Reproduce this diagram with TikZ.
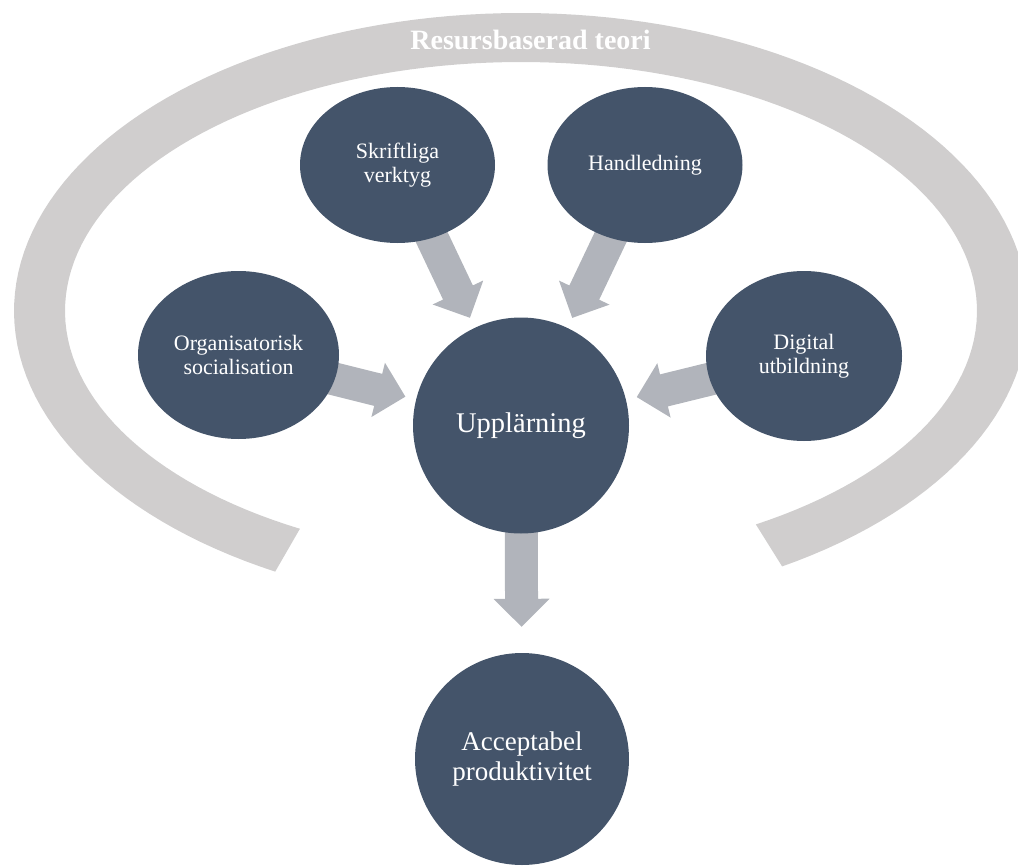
\documentclass[tikz,border=0pt]{standalone}
\usepackage{fontspec}
\setmainfont{Liberation Serif}
\usetikzlibrary{calc,shapes.geometric}
\definecolor{nodeblue}{HTML}{44546A}
\definecolor{arrowgray}{HTML}{B1B4BB}
\definecolor{ringgray}{HTML}{D0CECE}
\pgfdeclarelayer{back}
\pgfsetlayers{back,main}
\newcommand\blockarrow[3]{% source, target, gap before target
  \path (#1) -- (#2) coordinate[pos=0] (bA) coordinate[pos=1] (bB);
  \coordinate (bS) at ($(bA)!-12pt!(bB)$);
  \coordinate (bT) at ($(bB)!#3!(bA)$);
  \coordinate (bH) at ($(bT)!28pt!(bS)$);
  \fill[arrowgray] ($(bS)!16.5pt!90:(bT)$) -- ($(bH)!16.5pt!-90:(bS)$)
    -- ($(bH)!28pt!-90:(bS)$) -- (bT) -- ($(bH)!28pt!90:(bS)$)
    -- ($(bH)!16.5pt!90:(bS)$) -- ($(bS)!16.5pt!-90:(bT)$) -- cycle;
}
\tikzset{
  bubble/.style={ellipse, fill=nodeblue, text=white, inner sep=0pt,
    align=center, font=\fontsize{22}{24}\selectfont},
}
\begin{document}
\begin{tikzpicture}[x=1pt,y=-1pt]
\useasboundingbox (0,0) rectangle (1018,867);
% nodes
\node[bubble, minimum width=195pt, minimum height=156pt] (sk) at (397.5,165) {Skriftliga\\verktyg};
\node[bubble, minimum width=195pt, minimum height=156pt] (ha) at (645,165) {Handledning};
\node[bubble, minimum width=201pt, minimum height=168pt] (or) at (238.5,355) {Organisatorisk\\socialisation};
\node[bubble, minimum width=196pt, minimum height=170pt] (di) at (804,356) {Digital\\utbildning};
\node[bubble, minimum width=216pt, minimum height=216pt, font=\fontsize{28.5}{32}\selectfont] (up) at (521,425.5) {Upplärning};
\node[bubble, minimum width=214pt, minimum height=212pt, font=\fontsize{27}{30}\selectfont] (ac) at (522,759) {Acceptabel\\produktivitet};
\begin{pgfonlayer}{back}
  \fill[ringgray] plot[domain=119:419,samples=150] ({521+507*cos(\x)},{311+298*sin(\x)})
    -- plot[domain=419:119,samples=150] ({521+456*cos(\x)},{311+249*sin(\x)}) -- cycle;
  \blockarrow{sk}{up}{11pt}
  \blockarrow{ha}{up}{11pt}
  \blockarrow{or}{up}{11pt}
  \blockarrow{di}{up}{11pt}
  \blockarrow{up}{ac}{26pt}
\end{pgfonlayer}
\node[font=\bfseries\fontsize{28}{30}\selectfont, text=white, anchor=base] (ti) at (530.5,50) {Resursbaserad teori};
\end{tikzpicture}
\end{document}
